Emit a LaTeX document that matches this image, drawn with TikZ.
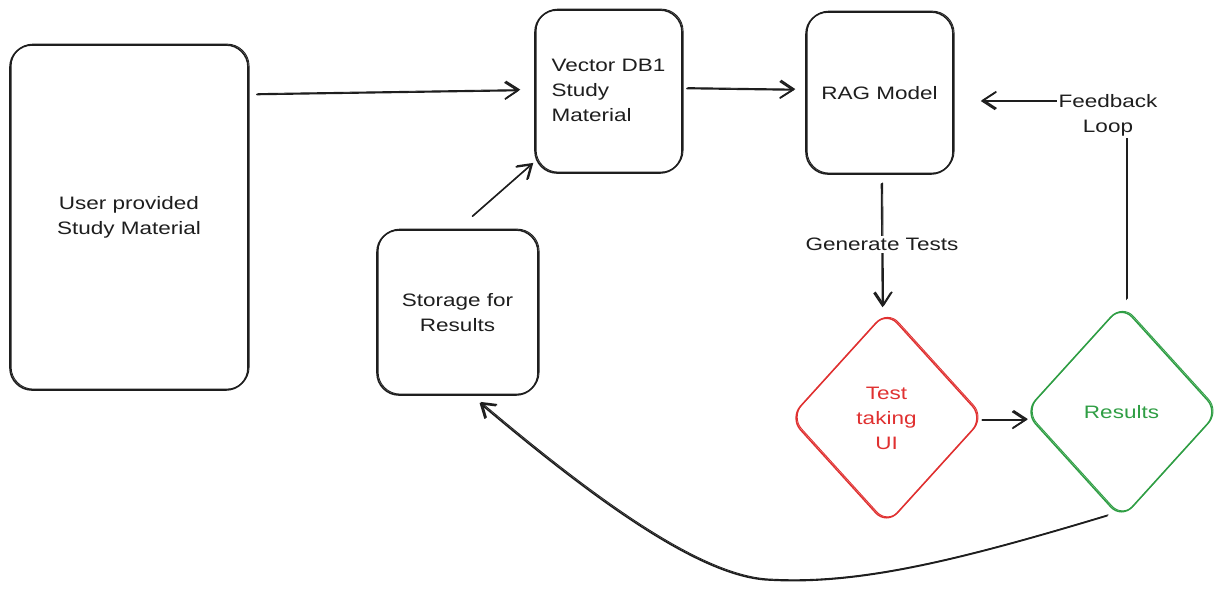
\documentclass[tikz,border=0pt]{standalone}
\usepackage{fontspec}
\setmainfont[FakeStretch=1.25]{Liberation Sans}
\usetikzlibrary{shapes.geometric,arrows.meta}
\definecolor{ink}{HTML}{1E1E1E}
\definecolor{exred}{HTML}{E03131}
\definecolor{exgreen}{HTML}{2F9E44}
\begin{document}
\begin{tikzpicture}[x=1pt,y=-1pt,
  txt/.style={font=\fontsize{18}{25}\selectfont},
  sk/.style={postaction={draw, line width=0.9pt, transform canvas={shift={(1.1pt,0.9pt)}}}},
  box/.style={draw=ink, line width=1.6pt, rounded corners=22pt, inner sep=0pt, txt, text=ink, align=center, sk},
  dia/.style={shape=diamond, line width=1.5pt, minimum width=194pt, minimum height=214pt, inner sep=0pt, rounded corners=16pt, txt, align=center, sk},
  arr/.style={draw=ink, line width=1.6pt, line cap=round, line join=round, -{Straight Barb[length=13pt,width=17pt,line width=1.6pt]}, sk},
  lbl/.style={fill=white, inner sep=2pt, txt, text=ink, align=center}]
\useasboundingbox[fill=white] (0,0) rectangle (1229,592);

\node[box, minimum width=238pt, minimum height=345pt] (user) at (129,217.5) {User provided\\Study Material};
\node[box, minimum width=147pt, minimum height=163pt] (vec) at (608.5,91.5) {\begin{tabular}{@{}l@{}}Vector DB1\\Study\\Material\end{tabular}};
\node[box, minimum width=147pt, minimum height=162pt] (rag) at (879.5,93) {RAG Model};
\node[box, minimum width=161pt, minimum height=165pt] (store) at (457.5,312.5) {Storage for\\Results};
\node[dia, draw=exred, text=exred] (test) at (886.5,418) {Test\\taking\\UI};
\node[dia, draw=exgreen, text=exgreen] (res) at (1121.5,412) {Results};

\draw[arr] ([shift={(8,-123)}]user.east) -- ([shift={(-15,-1)}]vec.west);
\draw[arr] ([shift={(15,-13)}]store.north) -- ([shift={(-2,-10)}]vec.south west);
\draw[arr] ([shift={(4,-3)}]vec.east) -- ([shift={(-11,-3)}]rag.west);
\draw[arr] ([shift={(2,9)}]rag.south) -- node[lbl, pos=0.49] {Generate Tests} ([shift={(-4,-3)}]test.north);
\draw[arr] ([shift={(-2,2)}]test.east) -- ([shift={(3,8)}]res.west);
\draw[arr] ([shift={(5,-5)}]res.north) |- ([shift={(27,8)}]rag.east);
\node[lbl] (fb) at (1108,115) {Feedback\\Loop};
\coordinate (low) at (770,580);
\draw[arr] ([shift={(-14.5,-4)}]res.south) .. controls (960,560) and (860,585) .. (low)
  .. controls (700,578) and (590,496) .. ([shift={(22,7)}]store.south);
\end{tikzpicture}
\end{document}
